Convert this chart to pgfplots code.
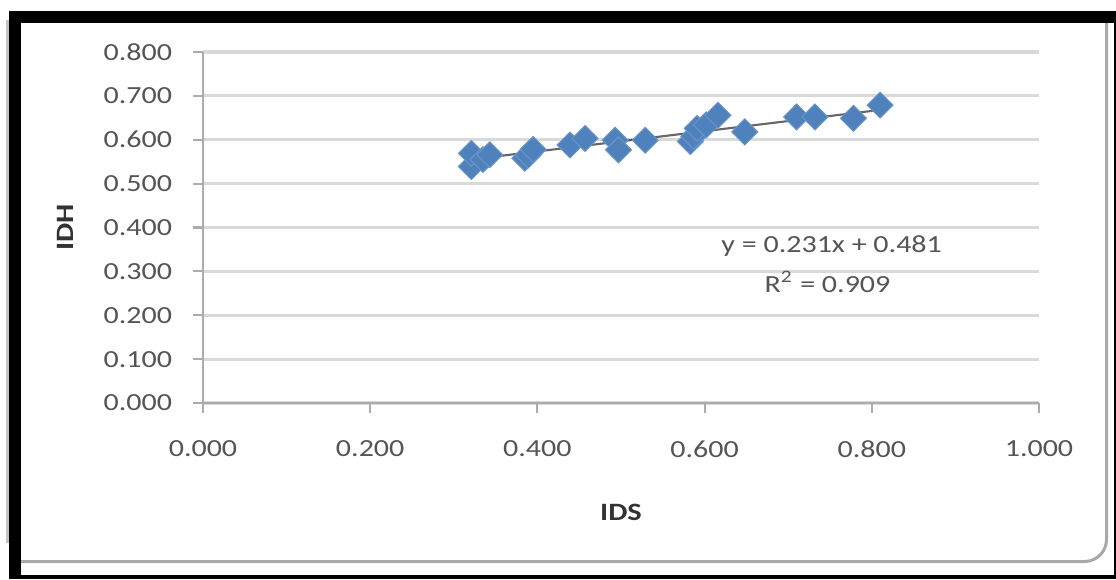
\documentclass[border=0pt]{standalone}
\usepackage{fontspec}
\setmainfont[FakeStretch=1.22]{Carlito}
\usepackage{pgfplots}
\pgfplotsset{compat=1.18}
\definecolor{ptblue}{HTML}{4F81BD}
\definecolor{gridgray}{HTML}{D9D9D9}
\definecolor{axisgray}{HTML}{ACACAC}
\definecolor{framegray}{HTML}{A9A9A9}
\definecolor{txt}{HTML}{555555}

\begin{document}
\begin{tikzpicture}[x=1cm,y=1cm]
\useasboundingbox (0,0) rectangle (11.16,5.79);
% page frame (scanned border)
\fill[white] (0,0) rectangle (11.16,5.79);
\fill[framegray!70] (0.06,0.36) rectangle (0.085,5.59);
\draw[framegray, line width=0.03cm, rounded corners=0.22cm]
  (0.21,0.175) -- (11.065,0.175) -- (11.065,5.56);
\fill[black] (0.09,5.56) rectangle (11.16,5.68);
\fill[black] (0.09,0) rectangle (0.21,5.68);
\fill[black] (0.09,0) rectangle (11.16,0.04);
\fill[black] (11.14,0) rectangle (11.16,5.56);

\begin{axis}[
  at={(2.03cm,1.76cm)}, anchor=south west,
  scale only axis, width=8.36cm, height=3.51cm,
  xmin=0, xmax=1, ymin=0, ymax=0.8,
  xtick={0,0.2,...,1.0}, ytick={0,0.1,...,0.8},
  axis x line*=bottom, axis y line*=left,
  axis line style={axisgray, line width=0.6pt},
  tick style={axisgray, line width=0.6pt},
  tick align=outside, major tick length=0.95mm,
  ymajorgrids, grid style={gridgray, line width=0.9pt},
  /pgf/number format/assume math mode=true,
  /pgf/number format/.cd, fixed, fixed zerofill, precision=3, /pgfplots/.cd,
  tick label style={font=\fontsize{7}{8}\selectfont, text=txt},
  yticklabel style={xshift=-0.9mm},
  xticklabel style={yshift=-1.6mm},
  xlabel={\textbf{IDS}}, ylabel={\textbf{IDH}},
  label style={font=\fontsize{7.1}{8}\selectfont, text=black!80},
  xlabel style={at={(axis description cs:0.5,-0.313)}, anchor=center},
  ylabel style={at={(axis description cs:-0.165,0.5)}, anchor=center},
  clip=false,
]
\addplot[only marks, mark=square*, mark size=2.6pt,
  mark options={rotate=45, fill=ptblue, draw=ptblue!85!white, line width=0.3pt}]
  coordinates {
    (0.321,0.539) (0.321,0.569) (0.335,0.555) (0.343,0.566)
    (0.385,0.558) (0.389,0.565) (0.395,0.578) (0.439,0.588)
    (0.457,0.603) (0.493,0.599) (0.497,0.577) (0.529,0.599)
    (0.583,0.596) (0.587,0.608) (0.591,0.626) (0.602,0.634)
    (0.616,0.656) (0.648,0.618) (0.710,0.652) (0.732,0.652)
    (0.778,0.649) (0.810,0.679)
  };
% linear trendline y = 0.231x + 0.481
\addplot[black, opacity=0.6, line width=0.6pt] coordinates {(0.32,0.555) (0.81,0.668)};
\node[font=\fontsize{7}{8}\selectfont, text=txt] at (axis cs:0.752,0.358) {y = 0.231x + 0.481};
\node[font=\fontsize{7}{8}\selectfont, text=txt] at (axis cs:0.747,0.276) {R\textsuperscript{2} = 0.909};
\end{axis}
\end{tikzpicture}
\end{document}
